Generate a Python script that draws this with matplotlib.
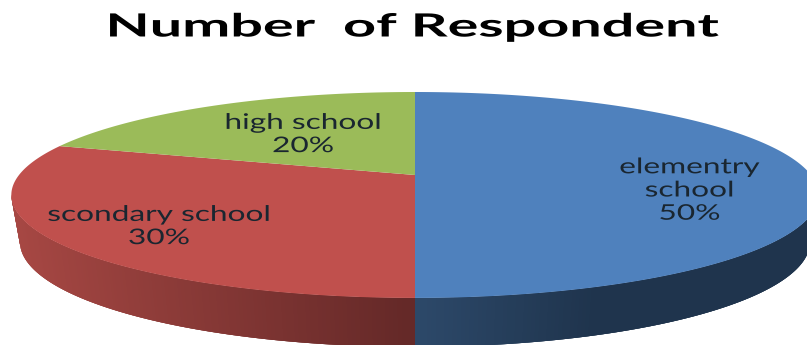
import numpy as np
import matplotlib
matplotlib.use("Agg")
import matplotlib.pyplot as plt
from matplotlib.path import Path
from matplotlib.patheffects import AbstractPathEffect
from matplotlib.transforms import Transform, Affine2D
from matplotlib.colors import to_rgb

# Survey shares, drawn clockwise from twelve o'clock
categories = ["elementry\nschool", "scondary school", "high school"]
shares = [50, 30, 20]
slice_colors = ["#4F81BD", "#C0504D", "#9BBB59"]
title = "Number  of Respondent"

# Side-wall shading, (colour at the outer end, colour next to the front seam)
wall_shades = {0: ("#1F344D", "#2C4868"), 1: ("#A64743", "#652928")}
label_xy = [(689.5, 190.5), (159, 226.5), (303, 134.5)]


class TiltedDisc(Transform):
    """Perspective view of the unit disc, giving axes coordinates in pixels."""
    input_dims = output_dims = 2

    def __init__(self, cx, cy, half_w, half_h, tilt):
        super().__init__()
        self.cx, self.cy, self.half_w, self.half_h, self.tilt = cx, cy, half_w, half_h, tilt

    def transform_non_affine(self, values):
        v = np.asarray(values, dtype=float)
        w = 1 + self.tilt * v[:, 1]
        return np.column_stack((self.cx + self.half_w * v[:, 0] / w,
                                self.cy - self.half_h * v[:, 1] / w))

    def transform_path_non_affine(self, path):
        # Flatten the arcs first so the outline stays smooth after projection
        pts = []
        for seg, code in path.iter_bezier():
            if code == Path.MOVETO:
                pts.append(seg.control_points[0][None, :])
            else:
                pts.append(seg(np.linspace(0, 1, 48)[1:]))
        return Path(self.transform_non_affine(np.vstack(pts)))


class WidenGlyphs(AbstractPathEffect):
    """Stretch text horizontally about a fixed pixel column."""

    def __init__(self, factor, pivot_x):
        super().__init__()
        self.stretch = Affine2D().translate(-pivot_x, 0).scale(factor, 1).translate(pivot_x, 0)

    def draw_path(self, renderer, gc, tpath, affine, rgbFace=None):
        renderer.draw_path(gc, tpath, affine + self.stretch, rgbFace)


fig = plt.figure(figsize=(8.07, 3.45), dpi=100, facecolor="white")
ax = fig.add_axes([0, 0, 1, 1])

top_face = TiltedDisc(415, 175, 396, 99.1, 0.194)
base_face = TiltedDisc(415, 221.6, 387.5, 101, 0.194)

wedges, _ = ax.pie(shares, colors=slice_colors, startangle=90, counterclock=False,
                   wedgeprops=dict(linewidth=0))
ax.set_aspect("auto")
ax.set_xlim(0, 807)
ax.set_ylim(345, 0)
ax.axis("off")

for w in wedges:
    w.set_transform(top_face + ax.transData)
    w.set_zorder(3)

# Curved wall: thin quads between the top rim and the base rim.
# The rim turns back at about 191 and 349 degrees, so only that arc faces the viewer.
# Quads run right to left and each one overlaps the next to hide the seams.
STEP = 0.5
for idx, (dark_end, seam_end) in wall_shades.items():
    th1, th2 = wedges[idx].theta1 % 360, wedges[idx].theta2 % 360
    lo, hi = (270, 349) if idx == 0 else (max(th1, 191), th2)
    steps = int(round((hi - lo) / STEP))
    angles = np.linspace(lo, hi, steps + 1)
    order = range(steps - 1, -1, -1) if idx == 0 else range(steps)
    for k in order:
        if idx == 0:
            a0, a1 = angles[k], min(angles[k] + 3 * STEP, hi)
        else:
            a0, a1 = max(angles[k] - 2 * STEP, lo), angles[k + 1]
        rim = np.radians([a0, a1])
        unit = np.column_stack((np.cos(rim), np.sin(rim)))
        upper = top_face.transform_non_affine(unit)
        lower = base_face.transform_non_affine(unit)
        if idx == 0:
            frac = min((upper[0, 0] - 415) / 170, 1)
            col = np.array(to_rgb(seam_end)) * (1 - frac) + np.array(to_rgb(dark_end)) * frac
        else:
            frac = np.clip((upper[1, 0] - 20) / 395, 0, 1)
            col = np.array(to_rgb(dark_end)) * (1 - frac) + np.array(to_rgb(seam_end)) * frac
        quad = np.vstack((upper, lower[::-1]))
        ax.fill(quad[:, 0], quad[:, 1], color=col, lw=0, zorder=2)

for name, share, (x, y) in zip(categories, shares, label_xy):
    ax.text(x, y, f"{name}\n{share}%", ha="center", va="center", fontsize=15.5,
            color="#1A2630", family="Lato", linespacing=1.2, zorder=4,
            path_effects=[WidenGlyphs(1.47, x)])

title_x = 413
fig.text(title_x / 807, 1 - 27 / 345, title, ha="center", va="center", fontsize=23,
         fontweight="bold", family="Lato", color="black",
         path_effects=[WidenGlyphs(1.8, title_x)])

fig.savefig("out.png", dpi=100)
